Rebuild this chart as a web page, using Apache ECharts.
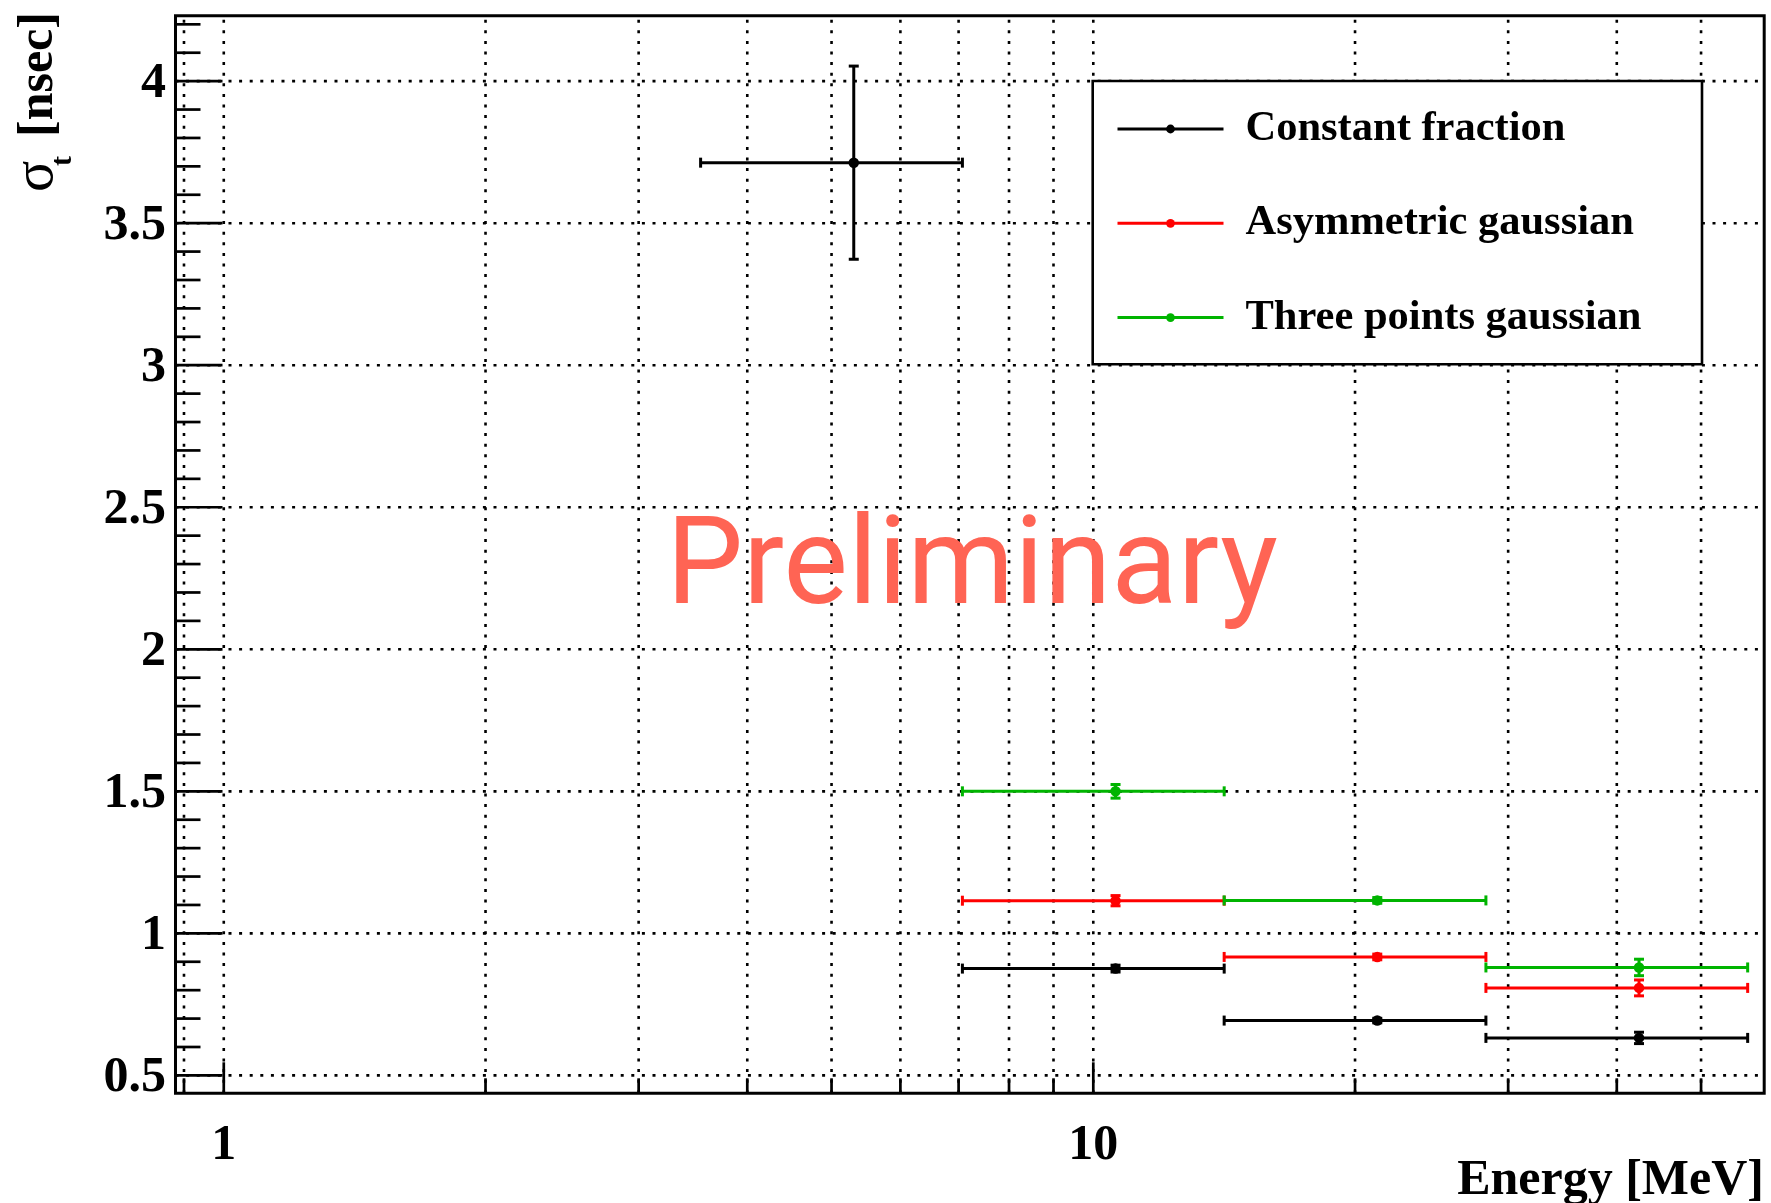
<!DOCTYPE html>
<html>
<head>
<meta charset="utf-8">
<script src="https://cdn.jsdelivr.net/npm/echarts@6/dist/echarts.min.js"></script>
<style>
  html, body { margin: 0; padding: 0; background: #fff; }
  #chart { width: 1771px; height: 1203px; }
</style>
</head>
<body>
<div id="chart"></div>
<script>
// Energy bins (MeV): centres and half widths
const energy = [5.303, 10.607, 21.213, 42.426];
const energyHalfWidth = [1.768, 3.536, 7.071, 14.142];

// Constant fraction timing resolution (ns)
const cfSigma = [3.713, 0.876, 0.693, 0.632];
const cfErr = [0.340, 0.012, 0.008, 0.020];

// Asymmetric gaussian fit (no entry for the lowest bin)
const agEnergy = [10.607, 21.213, 42.426];
const agHalfWidth = [3.536, 7.071, 14.142];
const agSigma = [1.115, 0.917, 0.808];
const agErr = [0.018, 0.010, 0.028];

// Three points gaussian fit
const tpEnergy = [10.607, 21.213, 42.426];
const tpHalfWidth = [3.536, 7.071, 14.142];
const tpSigma = [1.500, 1.116, 0.880];
const tpErr = [0.024, 0.010, 0.029];

// Axis ticks
const xLabelTicks = [1, 10];
const xMinorTicks = [0.9, 2, 3, 4, 5, 6, 7, 8, 9, 20, 30, 40, 50];
const yLabelTicks = [0.5, 1, 1.5, 2, 2.5, 3, 3.5, 4];
const yMinorTicks = [0.6, 0.7, 0.8, 0.9, 1.1, 1.2, 1.3, 1.4, 1.6, 1.7, 1.8, 1.9,
                     2.1, 2.2, 2.3, 2.4, 2.6, 2.7, 2.8, 2.9, 3.1, 3.2, 3.3, 3.4,
                     3.6, 3.7, 3.8, 3.9, 4.1, 4.2];

const X_MIN = 0.88, X_MAX = 59.1;
const Y_MIN = 0.437, Y_MAX = 4.23;

const BLACK = '#000000', RED = '#ff0000', GREEN = '#00b400';
const SERIF = '"Liberation Serif", "Times New Roman", serif';
const LABEL_FONT = 'bold 50px ' + SERIF;

// Frame decorations: dotted grid, inward ticks and tick labels
function renderFrame(params, api) {
  const bl = api.coord([X_MIN, Y_MIN]);
  const tr = api.coord([X_MAX, Y_MAX]);
  const x0 = bl[0], y0 = bl[1], x1 = tr[0], y1 = tr[1];
  const dotted = { stroke: '#000', lineWidth: 2.6, lineDash: [3, 7.6] };
  const tick = { stroke: '#000', lineWidth: 2.7 };
  const out = [];

  xLabelTicks.concat(xMinorTicks).forEach(function (v) {
    const px = api.coord([v, Y_MIN])[0];
    out.push({ type: 'line', shape: { x1: px, y1: y0, x2: px, y2: y1 }, style: dotted });
  });
  yLabelTicks.forEach(function (v) {
    const py = api.coord([X_MIN, v])[1];
    out.push({ type: 'line', shape: { x1: x0, y1: py, x2: x1, y2: py }, style: dotted });
  });

  xLabelTicks.forEach(function (v) {
    const px = api.coord([v, Y_MIN])[0];
    out.push({ type: 'line', shape: { x1: px, y1: y0, x2: px, y2: y0 - 31 }, style: tick });
    out.push({ type: 'text', style: { text: String(v), x: px, y: y0 + 52.7,
      align: 'center', verticalAlign: 'middle', font: LABEL_FONT, fill: '#000' } });
  });
  xMinorTicks.forEach(function (v) {
    const px = api.coord([v, Y_MIN])[0];
    out.push({ type: 'line', shape: { x1: px, y1: y0, x2: px, y2: y0 - 15 }, style: tick });
  });

  yLabelTicks.forEach(function (v) {
    const py = api.coord([X_MIN, v])[1];
    out.push({ type: 'line', shape: { x1: x0, y1: py, x2: x0 + 47, y2: py }, style: tick });
    out.push({ type: 'text', style: { text: String(v), x: x0 - 9.5, y: py + 3,
      align: 'right', verticalAlign: 'middle', font: LABEL_FONT, fill: '#000' } });
  });
  yMinorTicks.forEach(function (v) {
    const py = api.coord([X_MIN, v])[1];
    out.push({ type: 'line', shape: { x1: x0, y1: py, x2: x0 + 25, y2: py }, style: tick });
  });

  return { type: 'group', children: out };
}

// Horizontal (bin width) and vertical (uncertainty) error bars with end caps
function errorBars(name, xs, hw, ys, es, color) {
  return {
    type: 'custom',
    name: name + ' errors',
    coordinateSystem: 'cartesian2d',
    data: xs.map(function (x, i) { return [x, ys[i], hw[i], es[i]]; }),
    encode: { x: 0, y: 1 },
    z: 2,
    silent: true,
    renderItem: function (params, api) {
      const x = api.value(0), y = api.value(1), dx = api.value(2), dy = api.value(3);
      const pl = api.coord([x - dx, y]), pr = api.coord([x + dx, y]);
      const pb = api.coord([x, y - dy]), pt = api.coord([x, y + dy]);
      const st = { stroke: color, lineWidth: 3 };
      const c = 5;
      return {
        type: 'group',
        children: [
          { type: 'line', shape: { x1: pl[0], y1: pl[1], x2: pr[0], y2: pr[1] }, style: st },
          { type: 'line', shape: { x1: pl[0], y1: pl[1] - c, x2: pl[0], y2: pl[1] + c }, style: st },
          { type: 'line', shape: { x1: pr[0], y1: pr[1] - c, x2: pr[0], y2: pr[1] + c }, style: st },
          { type: 'line', shape: { x1: pb[0], y1: pb[1], x2: pt[0], y2: pt[1] }, style: st },
          { type: 'line', shape: { x1: pb[0] - c, y1: pb[1], x2: pb[0] + c, y2: pb[1] }, style: st },
          { type: 'line', shape: { x1: pt[0] - c, y1: pt[1], x2: pt[0] + c, y2: pt[1] }, style: st }
        ]
      };
    }
  };
}

// Central values drawn as markers only
function markers(name, xs, ys, color) {
  return {
    type: 'line',
    name: name,
    color: color,
    data: xs.map(function (x, i) { return [x, ys[i]]; }),
    symbol: 'circle',
    symbolSize: 10.5,
    showSymbol: true,
    showAllSymbol: true,
    itemStyle: { color: color },
    lineStyle: { color: color, width: 0, opacity: 0 },
    z: 3,
    silent: true
  };
}

const chart = echarts.init(document.getElementById('chart'), null, { renderer: 'canvas' });

chart.setOption({
  animation: false,
  backgroundColor: '#ffffff',
  grid: {
    left: 175.5, top: 15.8, width: 1588.7, height: 1077.5,
    show: true, borderColor: '#000', borderWidth: 3, backgroundColor: 'transparent'
  },
  xAxis: {
    type: 'log', logBase: 10, min: X_MIN, max: X_MAX,
    axisLine: { show: false }, axisTick: { show: false },
    axisLabel: { show: false }, splitLine: { show: false }, minorTick: { show: false }
  },
  yAxis: {
    type: 'value', min: Y_MIN, max: Y_MAX,
    axisLine: { show: false }, axisTick: { show: false },
    axisLabel: { show: false }, splitLine: { show: false }
  },
  legend: {
    orient: 'vertical',
    left: 1116, top: 101, padding: 0,
    itemWidth: 106, itemHeight: 11, itemGap: 38.3,
    selectedMode: false,
    // text rows sit slightly closer together than the marker lines
    data: [
      { name: 'Constant fraction', textStyle: { padding: [8, 0, 4, 17] } },
      { name: 'Asymmetric gaussian', textStyle: { padding: [2, 0, 10, 17] } },
      { name: 'Three points gaussian', textStyle: { padding: [1, 0, 11, 17] } }
    ],
    lineStyle: { width: 3, opacity: 1 },
    textStyle: {
      fontFamily: SERIF, fontWeight: 'bold', fontSize: 42.5, color: '#000',
      lineHeight: 44, padding: [6, 0, 6, 17]
    },
    z: 6
  },
  graphic: [
    {
      type: 'rect', z: 5,
      shape: { x: 1092.7, y: 81, width: 609.3, height: 283.3 },
      style: { fill: '#fff', stroke: '#000', lineWidth: 2.6 }
    },
    {
      type: 'text', z: 4, x: 972, y: 572,
      style: { text: 'Preliminary', font: '122px Roboto, "Noto Sans", sans-serif',
        fill: '#ff6454', align: 'center', verticalAlign: 'middle' }
    },
    {
      type: 'text', z: 4, x: 1764, y: 1181,
      style: { text: 'Energy [MeV]', font: LABEL_FONT, fill: '#000',
        align: 'right', verticalAlign: 'middle' }
    },
    {
      type: 'text', z: 4, x: 37, y: 192, rotation: Math.PI / 2,
      style: { text: 'σ', font: '58px ' + SERIF, fill: '#000',
        align: 'left', verticalAlign: 'middle' }
    },
    {
      type: 'text', z: 4, x: 62.9, y: 166, rotation: Math.PI / 2,
      style: { text: 't', font: 'bold 30px ' + SERIF, fill: '#000',
        align: 'left', verticalAlign: 'middle' }
    },
    {
      type: 'text', z: 4, x: 39.1, y: 137, rotation: Math.PI / 2,
      style: { text: '[nsec]', font: LABEL_FONT, fill: '#000',
        align: 'left', verticalAlign: 'middle' }
    }
  ],
  series: [
    {
      type: 'custom', name: 'frame', coordinateSystem: 'cartesian2d',
      data: [[1, 1]], encode: { x: 0, y: 1 }, z: 1, silent: true,
      renderItem: renderFrame
    },
    errorBars('Constant fraction', energy, energyHalfWidth, cfSigma, cfErr, BLACK),
    errorBars('Asymmetric gaussian', agEnergy, agHalfWidth, agSigma, agErr, RED),
    errorBars('Three points gaussian', tpEnergy, tpHalfWidth, tpSigma, tpErr, GREEN),
    markers('Constant fraction', energy, cfSigma, BLACK),
    markers('Asymmetric gaussian', agEnergy, agSigma, RED),
    markers('Three points gaussian', tpEnergy, tpSigma, GREEN)
  ]
});
</script>
</body>
</html>
